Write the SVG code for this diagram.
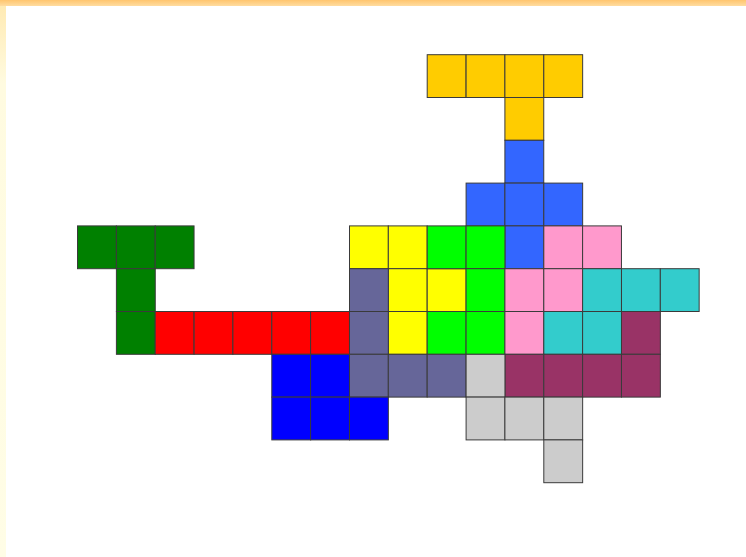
<svg xmlns="http://www.w3.org/2000/svg" width="746" height="557" viewBox="0 0 746 557">
<defs>
<linearGradient id="topband" x1="0" y1="0" x2="0" y2="1">
<stop offset="0" stop-color="#ffc56e"/>
<stop offset="1" stop-color="#ffdca0"/>
</linearGradient>
<linearGradient id="leftband" x1="0" y1="0" x2="0" y2="1">
<stop offset="0" stop-color="#ffe9b0"/>
<stop offset="0.15" stop-color="#fffbe0"/>
<stop offset="1" stop-color="#fffde6"/>
</linearGradient>
</defs>
<style>
rect.c{stroke:#3a3a3a;stroke-width:1;width:38.85px;height:42.8px}
.gold{fill:#ffcc00}
.royal{fill:#3366ff}
.dgreen{fill:#008000}
.red{fill:#ff0000}
.yellow{fill:#ffff00}
.green{fill:#00ff00}
.pink{fill:#ff99cc}
.cyan{fill:#33cccc}
.maroon{fill:#993366}
.slate{fill:#666699}
.blue{fill:#0000ff}
.gray{fill:#cccccc;stroke:#555}
</style>
<rect x="0" y="0" width="746" height="557" fill="#ffffff"/>
<rect x="0" y="0" width="6" height="557" fill="url(#leftband)"/>
<rect x="0" y="0" width="746" height="6" fill="url(#topband)"/>
<g id="connectors"></g>
<g id="piece-gold">
<rect class="c gold" x="427.2" y="54.7" width="38.85" height="42.8"/>
<rect class="c gold" x="466.1" y="54.7" width="38.85" height="42.8"/>
<rect class="c gold" x="504.9" y="54.7" width="38.85" height="42.8"/>
<rect class="c gold" x="543.8" y="54.7" width="38.85" height="42.8"/>
<rect class="c gold" x="504.9" y="97.5" width="38.85" height="42.8"/>
</g>
<g id="piece-royal">
<rect class="c royal" x="504.9" y="140.3" width="38.85" height="42.8"/>
<rect class="c royal" x="466.1" y="183.1" width="38.85" height="42.8"/>
<rect class="c royal" x="504.9" y="183.1" width="38.85" height="42.8"/>
<rect class="c royal" x="543.8" y="183.1" width="38.85" height="42.8"/>
<rect class="c royal" x="504.9" y="225.9" width="38.85" height="42.8"/>
</g>
<g id="piece-dgreen">
<rect class="c dgreen" x="77.5" y="225.9" width="38.85" height="42.8"/>
<rect class="c dgreen" x="116.4" y="225.9" width="38.85" height="42.8"/>
<rect class="c dgreen" x="155.2" y="225.9" width="38.85" height="42.8"/>
<rect class="c dgreen" x="116.4" y="268.7" width="38.85" height="42.8"/>
<rect class="c dgreen" x="116.4" y="311.5" width="38.85" height="42.8"/>
</g>
<g id="piece-red">
<rect class="c red" x="155.2" y="311.5" width="38.85" height="42.8"/>
<rect class="c red" x="194.1" y="311.5" width="38.85" height="42.8"/>
<rect class="c red" x="232.9" y="311.5" width="38.85" height="42.8"/>
<rect class="c red" x="271.8" y="311.5" width="38.85" height="42.8"/>
<rect class="c red" x="310.6" y="311.5" width="38.85" height="42.8"/>
</g>
<g id="piece-yellow">
<rect class="c yellow" x="349.5" y="225.9" width="38.85" height="42.8"/>
<rect class="c yellow" x="388.3" y="225.9" width="38.85" height="42.8"/>
<rect class="c yellow" x="388.3" y="268.7" width="38.85" height="42.8"/>
<rect class="c yellow" x="427.2" y="268.7" width="38.85" height="42.8"/>
<rect class="c yellow" x="388.3" y="311.5" width="38.85" height="42.8"/>
</g>
<g id="piece-green">
<rect class="c green" x="427.2" y="225.9" width="38.85" height="42.8"/>
<rect class="c green" x="466.1" y="225.9" width="38.85" height="42.8"/>
<rect class="c green" x="466.1" y="268.7" width="38.85" height="42.8"/>
<rect class="c green" x="427.2" y="311.5" width="38.85" height="42.8"/>
<rect class="c green" x="466.1" y="311.5" width="38.85" height="42.8"/>
</g>
<g id="piece-pink">
<rect class="c pink" x="543.8" y="225.9" width="38.85" height="42.8"/>
<rect class="c pink" x="582.6" y="225.9" width="38.85" height="42.8"/>
<rect class="c pink" x="504.9" y="268.7" width="38.85" height="42.8"/>
<rect class="c pink" x="543.8" y="268.7" width="38.85" height="42.8"/>
<rect class="c pink" x="504.9" y="311.5" width="38.85" height="42.8"/>
</g>
<g id="piece-cyan">
<rect class="c cyan" x="582.6" y="268.7" width="38.85" height="42.8"/>
<rect class="c cyan" x="621.5" y="268.7" width="38.85" height="42.8"/>
<rect class="c cyan" x="660.3" y="268.7" width="38.85" height="42.8"/>
<rect class="c cyan" x="543.8" y="311.5" width="38.85" height="42.8"/>
<rect class="c cyan" x="582.6" y="311.5" width="38.85" height="42.8"/>
</g>
<g id="piece-maroon">
<rect class="c maroon" x="621.5" y="311.5" width="38.85" height="42.8"/>
<rect class="c maroon" x="504.9" y="354.3" width="38.85" height="42.8"/>
<rect class="c maroon" x="543.8" y="354.3" width="38.85" height="42.8"/>
<rect class="c maroon" x="582.6" y="354.3" width="38.85" height="42.8"/>
<rect class="c maroon" x="621.5" y="354.3" width="38.85" height="42.8"/>
</g>
<g id="piece-slate">
<rect class="c slate" x="349.5" y="268.7" width="38.85" height="42.8"/>
<rect class="c slate" x="349.5" y="311.5" width="38.85" height="42.8"/>
<rect class="c slate" x="349.5" y="354.3" width="38.85" height="42.8"/>
<rect class="c slate" x="388.3" y="354.3" width="38.85" height="42.8"/>
<rect class="c slate" x="427.2" y="354.3" width="38.85" height="42.8"/>
</g>
<g id="piece-blue">
<rect class="c blue" x="271.8" y="354.3" width="38.85" height="42.8"/>
<rect class="c blue" x="310.6" y="354.3" width="38.85" height="42.8"/>
<rect class="c blue" x="271.8" y="397.1" width="38.85" height="42.8"/>
<rect class="c blue" x="310.6" y="397.1" width="38.85" height="42.8"/>
<rect class="c blue" x="349.5" y="397.1" width="38.85" height="42.8"/>
</g>
<g id="piece-gray">
<rect class="c gray" x="466.1" y="354.3" width="38.85" height="42.8"/>
<rect class="c gray" x="466.1" y="397.1" width="38.85" height="42.8"/>
<rect class="c gray" x="504.9" y="397.1" width="38.85" height="42.8"/>
<rect class="c gray" x="543.8" y="397.1" width="38.85" height="42.8"/>
<rect class="c gray" x="543.8" y="439.9" width="38.85" height="42.8"/>
</g>
</svg>
